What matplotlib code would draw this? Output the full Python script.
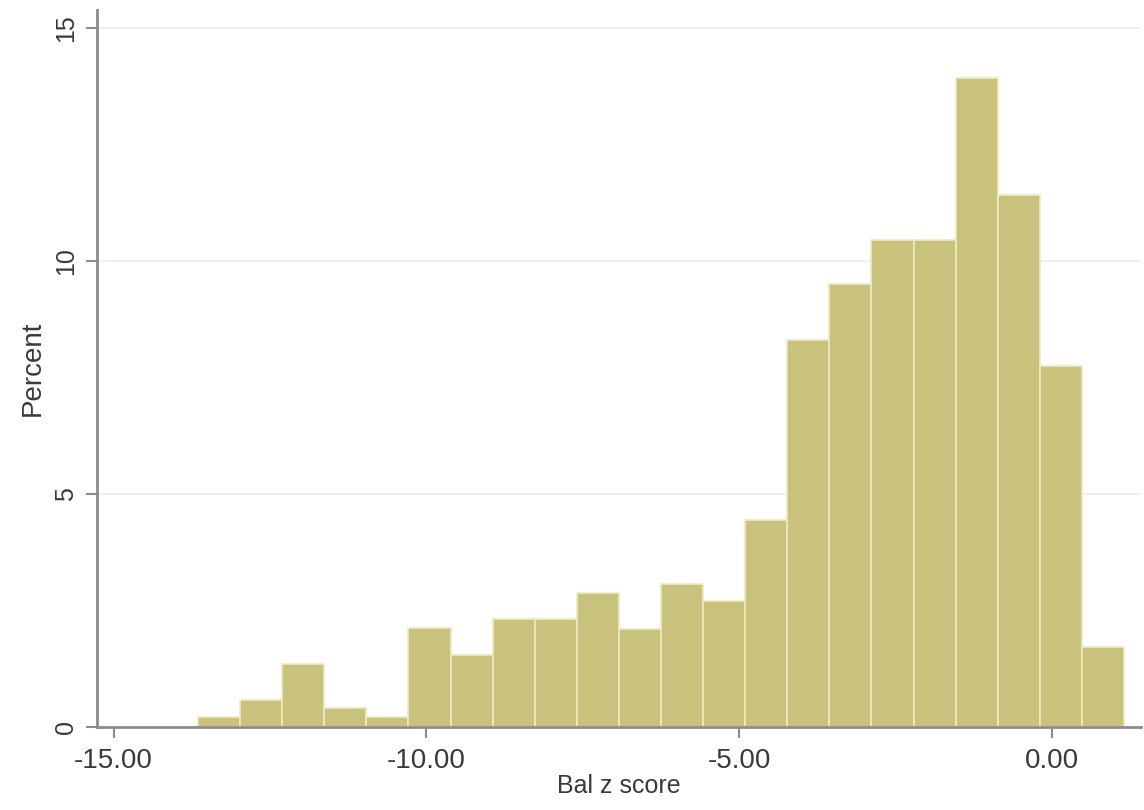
import matplotlib.pyplot as plt
import numpy as np

plt.rcParams['font.family'] = ['Liberation Sans', 'DejaVu Sans']

# histogram bins (Stata-style, 22 bins)
bin_start = -13.65
bin_width = 0.673
percent = [0.21, 0.58, 1.35, 0.40, 0.21, 2.12, 1.54, 2.32, 2.32, 2.88,
           2.10, 3.08, 2.70, 4.45, 8.30, 9.50, 10.45, 10.45, 13.93, 11.42,
           7.75, 1.72]
x_ticks = [-15, -10, -5, 0]
x_tick_labels = ["-15.00", "-10.00", "-5.00", "0.00"]
y_ticks = [0, 5, 10, 15]

edges = bin_start + bin_width * np.arange(len(percent))

fig = plt.figure(figsize=(11.44, 8.10), dpi=100)
ax = fig.add_axes([0.085, 0.1025, 0.912, 0.885])

ax.bar(edges, percent, width=bin_width, align='edge',
       color='#c9c27c', edgecolor='#efe9c4', linewidth=1.2, zorder=2)

ax.set_xlim(-15.26, 1.42)
ax.set_ylim(0, 15.39)
ax.set_xticks(x_ticks)
ax.set_xticklabels(x_tick_labels)
ax.set_yticks(y_ticks)
ax.set_yticklabels([str(v) for v in y_ticks], rotation=90, va='center')

ax.grid(axis='y', color='#e6eff0', linewidth=1.2, zorder=0)
for s in ['top', 'right']:
    ax.spines[s].set_visible(False)
for s in ['left', 'bottom']:
    ax.spines[s].set_color('#8c8c8c')
    ax.spines[s].set_linewidth(2)
ax.tick_params(axis='both', colors='#8c8c8c', length=8, width=1.5,
               labelcolor='#3a3a3a')
ax.tick_params(axis='x', labelsize=20, pad=7)
ax.tick_params(axis='y', labelsize=18, pad=6)

ax.set_xlabel("Bal z score", fontsize=18, color='#3a3a3a', labelpad=0)
ax.set_ylabel("Percent", fontsize=20, color='#3a3a3a', labelpad=6)

fig.savefig("out.png", dpi=100, facecolor='white')
